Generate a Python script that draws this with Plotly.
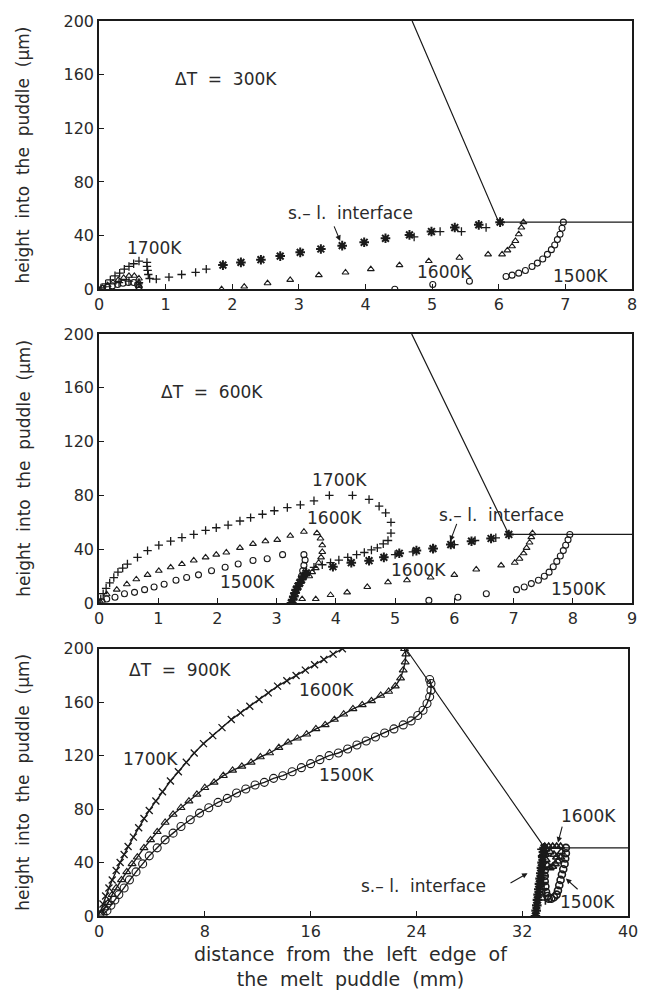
import plotly.graph_objects as go

# ---------------- Panel 1 : dT = 300K ----------------
p1_bnd_x = [4.7, 6.0, 8.0]
p1_bnd_y = [200, 50, 50]
p1_1700_x = [0.03, 0.1, 0.17, 0.24, 0.31, 0.38, 0.45, 0.52, 0.6, 0.72, 0.72, 0.73, 0.74, 0.76,
             0.86, 1.05, 1.24, 1.45, 1.61, 4.73, 5.12, 5.44, 5.81, 0.3, 0.45, 0.6]
p1_1700_y = [1, 4, 7, 10, 12, 15, 17, 19, 21, 20, 17, 14, 11, 8,
             7.5, 9, 11, 12.6, 15, 39, 43, 43, 46, 5, 6, 5]
p1_1600_x = [0.05, 0.13, 0.21, 0.29, 0.37, 0.45, 0.53, 0.6, 0.6, 0.6, 0.6,
             1.84, 2.18, 2.53, 2.87, 3.3, 3.7, 4.08, 4.51, 4.95, 5.41, 5.84,
             6.05, 6.13, 6.2, 6.25, 6.3, 6.34, 6.37]
p1_1600_y = [1, 3, 5, 7, 8.5, 10, 10, 8, 5, 2.5, 0.5,
             0, 2, 4.5, 7, 10.5, 12.5, 15, 18, 21, 23.5, 26,
             26, 29, 32, 36, 41, 46, 50]
p1_1500_x = [0.05, 0.12, 0.2, 0.28, 0.36, 0.44, 0.52, 0.58, 0.6,
             4.44, 5.01, 5.56, 6.11, 6.2, 6.3, 6.4, 6.5, 6.58, 6.66, 6.73, 6.79, 6.84, 6.88,
             6.92, 6.95, 6.97]
p1_1500_y = [0.5, 1.5, 2.5, 3.5, 4.5, 5, 5, 3.5, 1.5,
             0, 3.5, 6, 9.5, 10.5, 12, 14, 17, 19.5, 22.5, 26, 29.5, 33, 37,
             41, 45.5, 50]
p1_int_x = [1.86, 2.13, 2.43, 2.72, 3.02, 3.33, 3.65, 3.98, 4.3, 4.66, 4.99, 5.34, 5.7, 6.02]
p1_int_y = [18, 20, 22, 24.7, 27.5, 30, 32.5, 35, 38, 40.5, 43, 46, 48, 50]

# ---------------- Panel 2 : dT = 600K ----------------
p2_bnd_x = [5.28, 6.92, 9.0]
p2_bnd_y = [200, 51, 51]
p2_1700_x = [0.0, 0.03, 0.07, 0.12, 0.18, 0.25, 0.32, 0.4, 0.48, 0.65, 0.82, 1.01, 1.21, 1.4, 1.6, 1.8, 1.98, 2.18,
             2.38, 2.56, 2.76, 2.96, 3.18, 3.4, 3.63, 3.89, 4.28, 4.56, 4.73, 4.84, 4.93, 4.93,
             4.88, 4.8, 4.7, 4.6, 4.48, 4.35, 4.2, 4.05, 3.91, 3.77, 3.63, 3.5,
             5.0, 5.3, 5.65, 6.0, 6.35, 6.7]
p2_1700_y = [0, 3, 7, 11, 15, 19, 23, 26, 29, 34, 39, 43, 46, 48.7, 51, 54, 56, 58,
             61, 63.5, 66, 68.6, 71, 73, 76, 80, 80, 77, 72, 67, 60, 52,
             46.5, 44, 41, 39.5, 37.6, 36, 34, 32, 30, 28.5, 26.6, 24,
             36, 38, 40.5, 43.5, 46.5, 48.5]
p2_1600_x = [0.02, 0.13, 0.3, 0.47, 0.63, 0.82, 1.01, 1.21, 1.4, 1.6, 1.8, 1.98, 2.15, 2.38,
             2.6, 2.81, 3.01, 3.23, 3.46, 3.68, 3.74, 3.77, 3.77, 3.75, 3.71, 3.66, 3.6, 3.55,
             3.43, 3.66, 3.91, 4.19, 4.53, 4.88, 5.2, 5.6, 6.0, 6.37, 6.79,
             7.02, 7.1, 7.17, 7.22, 7.27, 7.3, 7.32]
p2_1600_y = [1, 6.6, 10, 14, 17.7, 21, 24, 26.6, 29, 31.7, 34, 36, 37.6, 41,
             44, 46, 47, 50, 53, 52, 48, 43, 38, 34, 30, 26, 23, 20,
             3, 3, 6, 8, 12, 15.5, 17, 19, 21, 25, 28,
             30, 33, 37, 41, 45, 49, 52]
p2_1500_x = [0.05, 0.13, 0.27, 0.43, 0.6, 0.77, 0.93, 1.1, 1.3, 1.48, 1.68, 1.9, 2.13, 2.35,
             2.6, 2.84, 3.1, 3.46, 3.48, 3.46, 3.44, 3.42,
             5.57, 6.06, 6.54, 7.05, 7.18, 7.3, 7.42, 7.52, 7.6, 7.67, 7.73, 7.79, 7.84, 7.88,
             7.92, 7.95]
p2_1500_y = [1, 3, 4.4, 7, 8, 10, 12, 14, 17, 19, 21, 24, 26.6, 29,
             31.6, 33, 36, 36, 32, 28, 24, 20,
             2, 4.4, 7, 10, 12, 14.5, 17, 20, 23, 27, 31, 35, 39, 43,
             47, 51]
p2_int_x = [3.25, 3.27, 3.29, 3.31, 3.33, 3.36, 3.39, 3.42, 3.45, 3.5,
            3.95, 4.26, 4.56, 4.81, 5.07, 5.36, 5.64, 5.94, 6.29, 6.62, 6.92]
p2_int_y = [0, 2.5, 5, 7.5, 10, 12.5, 15, 17.5, 20, 22.5,
            27, 30, 31.5, 34, 37, 39, 40.5, 43.5, 46, 48, 51]

# ---------------- Panel 3 : dT = 900K ----------------
p3_bnd_x = [23.2, 33.7, 40.0]
p3_bnd_y = [200, 51, 51]
# main curves
p3_1700_x = [0.1, 0.3, 0.5, 0.75, 1.0, 1.3, 1.6, 1.9, 2.2, 2.6, 3.0, 3.4, 3.8, 4.3, 4.8, 5.4,
             6.0, 6.6, 7.2, 7.9, 8.6, 9.3, 10.0, 10.7, 11.4, 12.1, 12.8, 13.5, 14.2, 14.9,
             15.6, 16.3, 17.0, 17.7, 18.4]
p3_1700_y = [3, 9, 15, 21, 27, 34, 40, 46, 52, 59, 66, 73, 79, 86, 93, 101,
             108, 115, 122, 129, 135, 141, 147, 152, 157, 162, 167, 172, 176, 180,
             184, 188, 192, 196, 200]
p3_1600_x = [0.2, 0.45, 0.7, 1.0, 1.3, 1.7, 2.1, 2.5, 2.9, 3.4, 3.9, 4.4, 5.0, 5.6, 6.2, 6.8,
             7.4, 8.0, 8.7, 9.4, 10.1, 10.8, 11.5, 12.2, 12.9, 13.6, 14.3, 15.0, 15.7, 16.4,
             17.1, 17.8, 18.5, 19.2, 19.9, 20.6, 21.3, 21.9, 22.4, 22.8, 23.0, 23.15, 23.2, 23.1]
p3_1600_y = [2, 6, 10, 16, 21, 27, 33, 39, 44, 51, 57, 63, 70, 76, 81, 86,
             91, 96, 100, 105, 109, 112, 115, 119, 122, 126, 130, 133, 136, 140,
             143, 147, 151, 155, 158, 161, 165, 168, 172, 178, 184, 190, 196, 200]
p3_1500_x = [0.3, 0.6, 0.9, 1.2, 1.5, 1.9, 2.3, 2.8, 3.3, 3.8, 4.4, 5.0, 5.6, 6.2, 6.9, 7.6,
             8.3, 9.0, 9.7, 10.4, 11.1, 11.8, 12.5, 13.2, 13.9, 14.6, 15.3, 16.0, 16.7, 17.4,
             18.1, 18.8, 19.5, 20.2, 20.9, 21.6, 22.3, 23.0, 23.6, 24.1, 24.5, 24.8, 25.0,
             25.1, 25.1, 25.0]
p3_1500_y = [1, 4, 8, 12, 16, 21, 27, 33, 39, 45, 51, 57, 62, 67, 72, 77,
             81, 85, 88, 92, 95, 98, 100, 103, 105, 108, 111, 114, 117, 120,
             122, 125, 128, 131, 134, 137, 140, 143, 146, 150, 154, 159, 164,
             169, 174, 177]
# cluster near the puddle end
p3_c1700_x = [33.5, 33.55, 33.6, 33.6, 33.6, 33.6, 33.65, 33.7, 33.75]
p3_c1700_y = [50, 45, 40, 35, 30, 25, 20, 15, 12]
p3_c1600_x = [33.7, 34.0, 34.3, 34.6, 34.9, 34.95, 34.9, 34.7, 34.5, 34.3, 34.1, 33.9, 33.8,
              33.75, 33.8, 34.1, 34.4, 34.6]
p3_c1600_y = [52, 52, 52, 52, 52, 48, 44, 41, 39, 37, 36, 38, 42,
              46, 50, 48, 46, 44]
p3_c1500_x = [35.3, 35.3, 35.25, 35.2, 35.1, 35.0, 34.9, 34.8, 34.7, 34.6, 34.4, 34.2, 34.0,
              33.9, 33.8, 33.75, 33.7, 33.7, 33.7]
p3_c1500_y = [51, 47, 43, 39, 35, 31, 27, 23, 19, 16, 14, 13, 13,
              15, 18, 22, 26, 30, 34]
p3_int_x = [33.0, 33.05, 33.1, 33.15, 33.2, 33.25, 33.3, 33.35, 33.4, 33.45, 33.5, 33.55, 33.6, 33.65]
p3_int_y = [0, 4, 8, 12, 16, 20, 24, 28, 32, 36, 40, 44, 48, 51]

# axis ranges and ticks
x_ranges = [[0, 8], [0, 9], [0, 40]]
x_ticks = [list(range(0, 9)), list(range(0, 10)), [0, 8, 16, 24, 32, 40]]
y_ticks = [0, 40, 80, 120, 160, 200]

INK = "#1a1a1a"
TXT = "#2a2a2a"
FONT = "DejaVu Sans"

fig = go.Figure()


def refs(i):
    return ("x" if i == 0 else f"x{i+1}"), ("y" if i == 0 else f"y{i+1}")


def add_markers(i, x, y, symbol, size, lw, mode="markers"):
    xa, ya = refs(i)
    fig.add_trace(go.Scatter(x=x, y=y, mode=mode, xaxis=xa, yaxis=ya, showlegend=False, hoverinfo="skip",
                             line=dict(color=INK, width=1.4),
                             marker=dict(symbol=symbol, size=size, color=INK, line=dict(width=lw, color=INK))))


def add_line(i, x, y):
    xa, ya = refs(i)
    fig.add_trace(go.Scatter(x=x, y=y, mode="lines", xaxis=xa, yaxis=ya, showlegend=False, hoverinfo="skip",
                             line=dict(color=INK, width=1.2)))


# panel 1
add_line(0, p1_bnd_x, p1_bnd_y)
add_markers(0, p1_1500_x, p1_1500_y, "circle-open", 6, 1.1)
add_markers(0, p1_1600_x, p1_1600_y, "triangle-up-open", 6, 1.1)
add_markers(0, p1_1700_x, p1_1700_y, "cross-thin-open", 6, 1.3)
add_markers(0, p1_int_x, p1_int_y, "asterisk-open", 8, 2)
# panel 2
add_line(1, p2_bnd_x, p2_bnd_y)
add_markers(1, p2_1500_x, p2_1500_y, "circle-open", 6, 1.1)
add_markers(1, p2_1600_x, p2_1600_y, "triangle-up-open", 6, 1.1)
add_markers(1, p2_1700_x, p2_1700_y, "cross-thin-open", 6, 1.3)
add_markers(1, p2_int_x, p2_int_y, "asterisk-open", 8, 2)
# panel 3
add_line(2, p3_bnd_x, p3_bnd_y)
add_markers(2, p3_1500_x, p3_1500_y, "circle-open", 8, 1.1, mode="lines+markers")
add_markers(2, p3_1600_x, p3_1600_y, "triangle-up-open", 7, 1.1, mode="lines+markers")
add_markers(2, p3_1700_x, p3_1700_y, "x-thin-open", 7, 1.3, mode="lines+markers")
add_markers(2, p3_c1500_x, p3_c1500_y, "circle-open", 7, 1.6)
add_markers(2, p3_c1600_x, p3_c1600_y, "triangle-up-open", 7, 1.6)
add_markers(2, p3_c1700_x, p3_c1700_y, "cross-thin-open", 7, 1.6)
add_markers(2, p3_int_x, p3_int_y, "asterisk-open", 8, 2.2)

y_domains = [[0.7003, 1.0], [0.3496, 0.6504], [0.0, 0.2986]]
x_domains = [[0, 1], [0, 1], [0, 0.9926]]

layout = dict(
    width=654, height=995,
    margin=dict(l=99, r=14, t=15, b=79),
    paper_bgcolor="white", plot_bgcolor="white",
    font=dict(family=FONT, color=TXT),
)
for i in range(3):
    xk = "xaxis" if i == 0 else f"xaxis{i+1}"
    yk = "yaxis" if i == 0 else f"yaxis{i+1}"
    xa, ya = refs(i)
    layout[xk] = dict(domain=x_domains[i], anchor=ya, range=x_ranges[i], tickvals=x_ticks[i],
                      ticks="inside", ticklen=5, tickcolor=INK, showgrid=False, zeroline=False,
                      showline=True, linecolor=INK, linewidth=1.5, mirror=True,
                      tickfont=dict(family=FONT, size=16, color=TXT))
    layout[yk] = dict(domain=y_domains[i], anchor=xa, range=[0, 200], tickvals=y_ticks,
                      ticks="inside", ticklen=5, tickcolor=INK, showgrid=False, zeroline=False,
                      showline=True, linecolor=INK, linewidth=1.5, mirror=True,
                      tickfont=dict(family=FONT, size=16, color=TXT))
fig.update_layout(**layout)

ann = []


def txt(t, x, y, ref, size=17):
    xr, yr = refs(ref - 1)
    ann.append(dict(text=t, x=x, y=y, xref=xr, yref=yr, showarrow=False, xanchor="center", yanchor="middle",
                    font=dict(family=FONT, size=size, color=TXT)))


def arrow(x, y, axv, ayv, ref):
    xr, yr = refs(ref - 1)
    ann.append(dict(text="", x=x, y=y, ax=axv, ay=ayv, xref=xr, yref=yr, axref=xr, ayref=yr,
                    showarrow=True, arrowhead=2, arrowsize=1, arrowwidth=1.1, arrowcolor=INK))


# panel 1
txt("ΔT  =  300K", 1.91, 157, 1)
txt("1700K", 0.84, 31, 1)
txt("s.– l.  interface", 3.77, 57, 1)
arrow(3.62, 36, 3.52, 48, 1)
txt("1600K", 5.18, 12.6, 1)
txt("1500K", 7.23, 9.6, 1)
# panel 2
txt("ΔT  =  600K", 1.9, 157, 2)
txt("1700K", 4.06, 91.5, 2)
txt("1600K", 3.97, 63.5, 2)
txt("1500K", 2.5, 15.5, 2)
txt("s.– l.  interface", 6.8, 65.7, 2)
arrow(5.93, 46, 6.05, 60, 2)
txt("1600K", 5.4, 24.4, 2)
txt("1500K", 8.1, 10.3, 2)
# panel 3
txt("ΔT  =  900K", 6.1, 184.4, 3)
txt("1700K", 3.9, 117.5, 3)
txt("1600K", 17.2, 168.8, 3)
txt("1500K", 18.7, 105.6, 3)
txt("1600K", 37.0, 75, 3)
arrow(34.7, 55, 35.05, 68, 3)
txt("1500K", 36.9, 10.4, 3)
arrow(35.3, 28, 36.3, 19, 3)
txt("s.– l.  interface", 24.5, 22.3, 3)
arrow(32.4, 32, 31.0, 24, 3)

# axis titles
for d in y_domains:
    ann.append(dict(text="height  into  the  puddle  (μm)", x=-0.142, y=(d[0] + d[1]) / 2,
                    xref="paper", yref="paper", showarrow=False, textangle=-90,
                    xanchor="center", yanchor="middle", font=dict(family=FONT, size=17, color=TXT)))
ann.append(dict(text="distance  from  the  left  edge  of<br>the  melt  puddle  (mm)", x=0.473, y=-0.056,
                xref="paper", yref="paper", showarrow=False, xanchor="center", yanchor="middle",
                font=dict(family=FONT, size=19, color=TXT)))
fig.update_layout(annotations=ann)

fig.write_html("out.html")
